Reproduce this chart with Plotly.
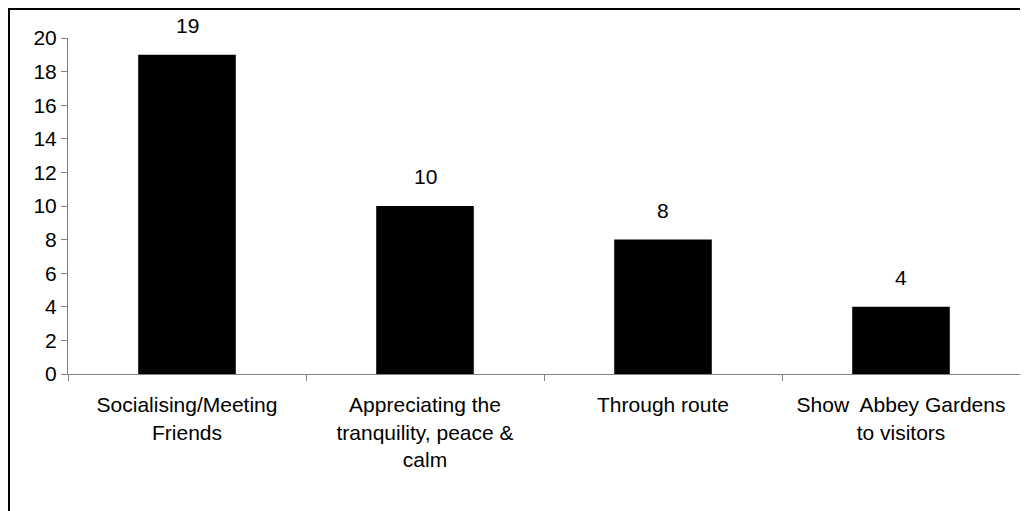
import plotly.graph_objects as go

categories = ["Socialising/Meeting<br>Friends",
              "Appreciating the<br>tranquility, peace &<br>calm",
              "Through route",
              "Show\u00a0 Abbey Gardens<br>to visitors"]
values = [19, 10, 8, 4]
y_ticks = [0, 2, 4, 6, 8, 10, 12, 14, 16, 18, 20]

FONT = dict(family="Liberation Sans, Arial, sans-serif", size=21, color="black")

fig = go.Figure()
fig.add_trace(go.Bar(x=categories, y=values, width=0.41,
                     marker=dict(color="black", line=dict(width=0)),
                     showlegend=False, hoverinfo="skip"))

for c, v in zip(categories, values):
    fig.add_annotation(x=c, y=v, text=str(v), showarrow=False,
                       yanchor="bottom", yshift=16, font=FONT)

# page body adds an 8px offset, so the figure is sized/placed accordingly
fig.update_layout(
    width=1020, height=503,
    margin=dict(l=60, r=8, t=30, b=137),
    paper_bgcolor="white", plot_bgcolor="white",
    font=FONT,
    xaxis=dict(type="category", range=[-0.5, 3.5], showline=True,
               linecolor="#808080", linewidth=1, ticks="outside",
               tickson="boundaries", ticklen=6, tickcolor="#808080",
               ticklabelstandoff=12,
               showgrid=False, zeroline=False, tickfont=FONT),
    yaxis=dict(range=[0, 20], tickvals=y_ticks, showline=True,
               linecolor="#808080", linewidth=1, ticks="outside",
               ticklen=6, tickcolor="#808080", showgrid=False,
               zeroline=False, tickfont=FONT),
    shapes=[dict(type="rect", xref="paper", yref="paper",
                 x0=(1 - 60) / 952, x1=(1030 - 60) / 952,
                 y0=(366 - 530) / 336, y1=(366 - 1) / 336,
                 line=dict(color="black", width=2), fillcolor="rgba(0,0,0,0)",
                 layer="below")],
)

fig.write_html("out.html")
